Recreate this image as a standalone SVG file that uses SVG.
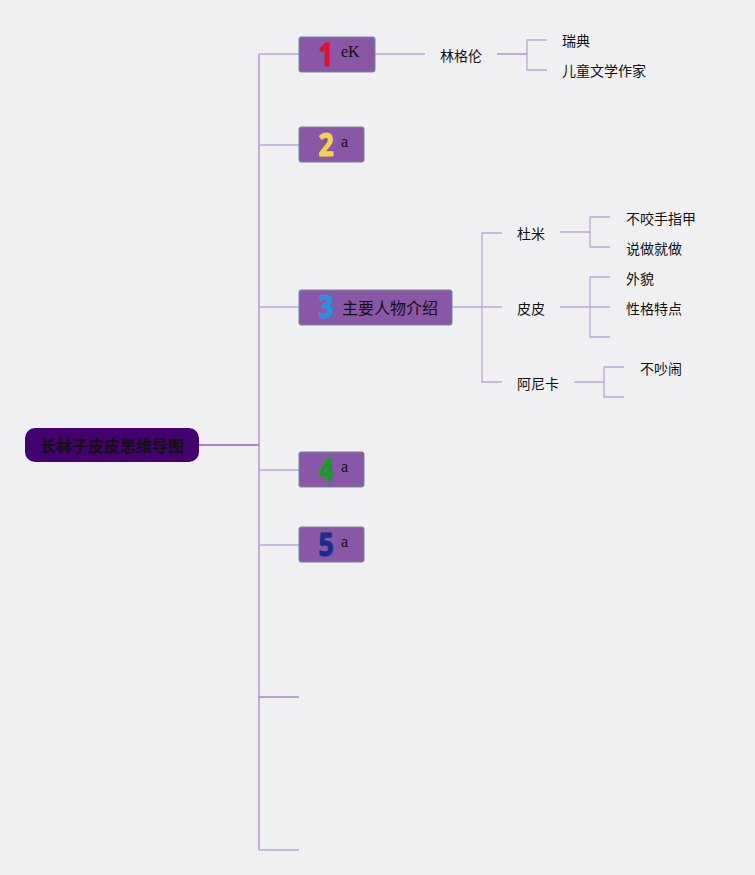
<svg xmlns="http://www.w3.org/2000/svg" width="755" height="875" viewBox="0 0 755 875">
<style>
.bg{fill:#f0f0f3}
.c{fill:none;stroke:#bda6d8;stroke-width:1.3}
.t{stroke-width:1.8}
.d{stroke:#a985c8}
.topic{fill:#8a56a6;stroke:#6f8a98;stroke-width:1}
.num{font-family:"Noto Sans","DejaVu Sans",sans-serif;font-weight:bold;font-size:34px;stroke-width:1.2;stroke-linejoin:round}
.lat{font-family:"Liberation Serif",serif;font-size:16px;fill:#111}
.cn{font-family:"Noto Sans CJK SC","Noto Sans",sans-serif;font-size:14px;fill:#111}
.cn16{font-family:"Noto Sans CJK SC","Noto Sans",sans-serif;font-size:16px;fill:#111}
</style>
<rect class="bg" x="0" y="0" width="755" height="875"/>
<g id="connectors">
<path class="c t" d="M259 54 V850"/>
<path class="c t d" d="M199 445 H259"/>
<path class="c" d="M259 54 H299 M259 145 H299 M259 307 H299 M259 470 H299 M259 545 H299 M259 850 H299"/>
<path class="c d" d="M259 697 H299"/>
<path class="c" d="M375 54 H425"/>
<path class="c d" d="M497 54 H527"/>
<path class="c" d="M547 40 H527 V70 H547"/>
<path class="c" d="M452 307 H502 M502 233 H482 V382 H502"/>
<path class="c" d="M560 232 H590 M610 217 H590 V247 H610"/>
<path class="c" d="M560 307 H610 M610 277 H590 V337 H610"/>
<path class="c" d="M574 382 H604 M624 367 H604 V397 H624"/>
</g>
<g id="root">
<rect x="25" y="428" width="174" height="34" rx="10" fill="#44006e"/>
<text class="cn16" x="112" y="452" text-anchor="middle" font-weight="bold">长林子皮皮思维导图</text>
</g>
<g id="topic1">
<rect class="topic" x="299" y="37" width="76" height="35" rx="2"/>
<text class="num" transform="translate(326 66) scale(0.78 0.95)" text-anchor="middle" fill="#e0102e" stroke="#e0102e">1</text>
<text class="lat" x="341" y="57">eK</text>
</g>
<g id="topic2">
<rect class="topic" x="299" y="127" width="65" height="35" rx="2"/>
<text class="num" transform="translate(326 156) scale(0.78 0.95)" text-anchor="middle" fill="#f2d34e" stroke="#f2d34e">2</text>
<text class="lat" x="341" y="147">a</text>
</g>
<g id="topic3">
<rect class="topic" x="299" y="290" width="153" height="35" rx="2"/>
<text class="num" transform="translate(326 318) scale(0.78 0.95)" text-anchor="middle" fill="#2b8fe2" stroke="#2b8fe2">3</text>
<text class="cn16" x="342" y="314">主要人物介绍</text>
</g>
<g id="topic4">
<rect class="topic" x="299" y="452" width="65" height="35" rx="2"/>
<text class="num" transform="translate(326 481) scale(0.78 0.95)" text-anchor="middle" fill="#1a9a2c" stroke="#1a9a2c">4</text>
<text class="lat" x="341" y="472">a</text>
</g>
<g id="topic5">
<rect class="topic" x="299" y="527" width="65" height="35" rx="2"/>
<text class="num" transform="translate(326 556) scale(0.78 0.95)" text-anchor="middle" fill="#1c2d8c" stroke="#1c2d8c">5</text>
<text class="lat" x="341" y="547">a</text>
</g>
<g id="linggelun"><text class="cn" x="440" y="61">林格伦</text></g>
<g id="ruidian"><text class="cn" x="562" y="46">瑞典</text></g>
<g id="zuojia"><text class="cn" x="562" y="76">儿童文学作家</text></g>
<g id="dumi"><text class="cn" x="517" y="239">杜米</text></g>
<g id="pipi"><text class="cn" x="517" y="314">皮皮</text></g>
<g id="anika"><text class="cn" x="517" y="389">阿尼卡</text></g>
<g id="buyao"><text class="cn" x="626" y="224">不咬手指甲</text></g>
<g id="shuozuo"><text class="cn" x="626" y="254">说做就做</text></g>
<g id="waimao"><text class="cn" x="626" y="284">外貌</text></g>
<g id="xingge"><text class="cn" x="626" y="314">性格特点</text></g>
<g id="buchao"><text class="cn" x="640" y="374">不吵闹</text></g>
</svg>
